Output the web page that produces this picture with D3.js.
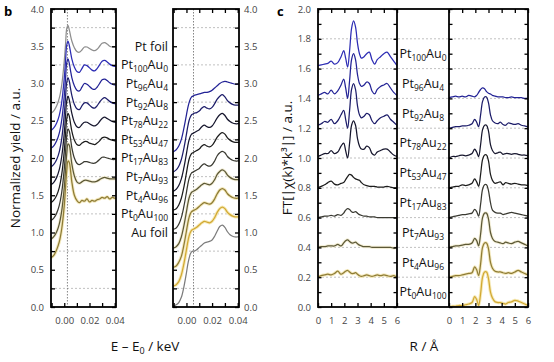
<!DOCTYPE html>
<html>
<head>
<meta charset="utf-8">
<script src="https://cdn.jsdelivr.net/npm/d3@7"></script>
<style>
  body { margin: 0; background: #fff; }
  text { font-family: "Open Sans", sans-serif; }
</style>
</head>
<body>
<svg width="554" height="362"></svg>
<script>
// ---- samples (top to bottom) ----
const sampleNames = ["Pt foil", "Pt100Au0", "Pt96Au4", "Pt92Au8", "Pt78Au22", "Pt53Au47",
                     "Pt17Au83", "Pt7Au93", "Pt4Au96", "Pt0Au100", "Au foil"];
const sampleColors = ["#8e8e8e", "#2c2cb4", "#232396", "#1d1d6a", "#17172e", "#1c1c1c",
                      "#3a3a32", "#5c5836", "#8e7c36", "#d2a934", "#7c7c7c"];
const haloColors = [null, null, null, null, null, null, null, "#f4efd8", "#f4e9bd", "#f6eab8", null];
// vertical offsets used in panel b and baselines in panel c
const xanesOffset = [2.5, 2.25, 2.0, 1.75, 1.5, 1.25, 1.0, 0.75, 0.5, 0.25, 0.0];
const ftBaseline  = [null, 1.6, 1.4, 1.2, 1.0, 0.8, 0.6, 0.4, 0.2, 0.0, null];

// ---- panel b: XANES, E - E0 in keV ----
const energy = [-0.0105, -0.008, -0.006, -0.004, -0.002, 0.000, 0.001, 0.002, 0.003, 0.004,
                0.005, 0.006, 0.008, 0.010, 0.012, 0.014, 0.016, 0.018, 0.020, 0.022,
                0.024, 0.026, 0.028, 0.030, 0.032, 0.034, 0.036, 0.038, 0.040, 0.041];

// Pt L3 edge, samples 0..8
const ptEdge = [
  [0.10,0.14,0.20,0.30,0.48,0.80,1.02,1.24,1.28,1.22,1.14,1.07,0.98,0.93,0.92,0.95,0.99,0.99,0.97,0.95,0.94,0.96,1.00,1.04,1.05,1.03,1.00,0.99,0.99,0.99],
  [0.12,0.16,0.22,0.32,0.50,0.82,1.05,1.27,1.32,1.26,1.17,1.08,0.97,0.91,0.90,0.95,1.00,0.99,0.96,0.93,0.92,0.95,1.00,1.05,1.06,1.04,1.01,0.99,0.98,0.98],
  [0.13,0.17,0.23,0.33,0.51,0.83,1.06,1.28,1.33,1.27,1.17,1.08,0.97,0.91,0.90,0.95,1.00,0.99,0.96,0.93,0.92,0.95,1.00,1.05,1.06,1.04,1.01,0.99,0.98,0.98],
  [0.13,0.17,0.23,0.33,0.51,0.83,1.06,1.27,1.33,1.28,1.18,1.09,0.97,0.91,0.90,0.95,0.99,0.99,0.96,0.93,0.92,0.95,1.00,1.04,1.06,1.04,1.01,0.99,0.98,0.98],
  [0.14,0.18,0.24,0.34,0.52,0.83,1.06,1.27,1.33,1.28,1.19,1.10,0.98,0.92,0.91,0.95,0.98,0.98,0.96,0.94,0.93,0.95,0.99,1.03,1.05,1.03,1.01,0.99,0.98,0.98],
  [0.15,0.19,0.25,0.35,0.53,0.84,1.07,1.28,1.35,1.31,1.21,1.11,0.99,0.93,0.92,0.95,0.97,0.97,0.95,0.94,0.93,0.95,0.98,1.02,1.03,1.02,1.00,0.99,0.98,0.98],
  [0.16,0.20,0.26,0.36,0.54,0.85,1.08,1.30,1.39,1.36,1.26,1.14,1.00,0.93,0.91,0.93,0.95,0.95,0.94,0.93,0.93,0.95,0.98,1.01,1.01,1.00,0.99,0.98,0.98,0.98],
  [0.16,0.20,0.26,0.36,0.54,0.85,1.08,1.31,1.44,1.42,1.31,1.17,1.01,0.93,0.91,0.93,0.95,0.95,0.94,0.93,0.93,0.94,0.96,0.98,0.99,0.98,0.97,0.97,0.97,0.97],
  [0.16,0.20,0.27,0.37,0.55,0.86,1.10,1.33,1.46,1.44,1.33,1.18,1.00,0.93,0.90,0.93,0.92,0.95,0.91,0.93,0.92,0.94,0.95,0.97,0.96,0.98,0.95,0.97,0.96,0.96]
];
const ptEdgeSamples = [0, 1, 2, 3, 4, 5, 6, 7, 8];

// Au L3 edge, samples 2..10
const auEdge = [
  [0.08,0.11,0.16,0.25,0.40,0.58,0.67,0.74,0.79,0.82,0.83,0.84,0.85,0.86,0.87,0.88,0.88,0.89,0.91,0.94,0.97,1.00,1.02,1.03,1.02,1.01,1.00,0.99,0.99,0.99],
  [0.06,0.09,0.14,0.23,0.38,0.57,0.67,0.75,0.80,0.83,0.84,0.85,0.86,0.88,0.92,0.94,0.92,0.91,0.93,0.98,1.04,1.08,1.10,1.07,1.02,0.99,0.97,0.96,0.96,0.96],
  [0.05,0.08,0.13,0.22,0.37,0.56,0.66,0.74,0.79,0.82,0.83,0.84,0.86,0.88,0.92,0.94,0.92,0.91,0.93,0.98,1.04,1.08,1.10,1.07,1.02,0.99,0.97,0.96,0.96,0.96],
  [0.05,0.07,0.12,0.21,0.36,0.55,0.65,0.73,0.78,0.81,0.82,0.83,0.85,0.87,0.91,0.93,0.91,0.90,0.92,0.97,1.03,1.07,1.09,1.07,1.02,0.99,0.97,0.96,0.96,0.96],
  [0.04,0.06,0.11,0.20,0.35,0.54,0.64,0.72,0.77,0.80,0.81,0.82,0.84,0.86,0.90,0.92,0.90,0.89,0.91,0.96,1.03,1.07,1.09,1.07,1.02,0.99,0.97,0.96,0.96,0.96],
  [0.04,0.06,0.10,0.19,0.34,0.53,0.63,0.71,0.76,0.79,0.80,0.81,0.83,0.86,0.89,0.91,0.90,0.89,0.91,0.96,1.03,1.07,1.09,1.07,1.02,0.99,0.97,0.96,0.96,0.96],
  [0.03,0.05,0.10,0.18,0.33,0.52,0.62,0.70,0.75,0.78,0.79,0.80,0.82,0.85,0.88,0.90,0.89,0.88,0.90,0.95,1.02,1.07,1.09,1.07,1.02,0.99,0.97,0.96,0.96,0.96],
  [0.03,0.05,0.09,0.18,0.33,0.52,0.62,0.70,0.75,0.78,0.79,0.80,0.82,0.85,0.88,0.90,0.89,0.88,0.90,0.95,1.02,1.07,1.09,1.07,1.02,0.99,0.97,0.96,0.96,0.96],
  [0.01,0.03,0.06,0.13,0.27,0.46,0.57,0.65,0.71,0.74,0.75,0.75,0.77,0.80,0.83,0.86,0.87,0.88,0.90,0.95,1.02,1.08,1.10,1.07,1.01,0.97,0.95,0.94,0.94,0.94]
];
const auEdgeSamples = [2, 3, 4, 5, 6, 7, 8, 9, 10];

// ---- panel c: FT magnitude vs R (Å), above each baseline ----
const radius = [0, 0.25, 0.5, 0.75, 1.0, 1.25, 1.5, 1.75, 1.95, 2.1, 2.25, 2.4, 2.55, 2.7, 2.85,
                3.0, 3.15, 3.3, 3.5, 3.7, 3.9, 4.1, 4.3, 4.5, 4.75, 5.0, 5.25, 5.5, 5.75, 6.0];

// Pt L3, samples 1..8
const ptFT = [
  [0.02,0.025,0.03,0.035,0.05,0.03,0.04,0.08,0.12,0.07,0.01,0.12,0.27,0.32,0.28,0.17,0.10,0.07,0.08,0.10,0.11,0.06,0.03,0.06,0.08,0.10,0.11,0.08,0.05,0.02],
  [0.02,0.03,0.04,0.03,0.055,0.03,0.05,0.09,0.13,0.07,0.0,0.12,0.26,0.30,0.26,0.16,0.10,0.08,0.09,0.11,0.10,0.05,0.03,0.06,0.08,0.09,0.10,0.07,0.04,0.02],
  [0.02,0.03,0.045,0.04,0.06,0.03,0.05,0.09,0.12,0.06,0.0,0.12,0.26,0.30,0.26,0.15,0.09,0.07,0.08,0.10,0.09,0.05,0.03,0.05,0.07,0.08,0.09,0.06,0.04,0.02],
  [0.01,0.02,0.03,0.03,0.05,0.03,0.04,0.08,0.10,0.05,0.0,0.10,0.22,0.25,0.22,0.13,0.08,0.06,0.06,0.08,0.07,0.03,0.02,0.04,0.05,0.06,0.06,0.04,0.02,0.01],
  [0.0,0.01,0.02,0.035,0.045,0.025,0.02,0.03,0.035,0.055,0.075,0.09,0.085,0.07,0.06,0.055,0.05,0.035,0.02,0.015,0.01,0.01,0.01,0.005,0.005,0.005,0.01,0.005,0.0,0.0],
  [0.0,0.005,0.01,0.01,0.015,0.01,0.02,0.015,0.03,0.05,0.06,0.055,0.04,0.035,0.04,0.03,0.02,0.015,0.01,0.01,0.005,0.005,0.005,0.0,0.0,0.0,0.0,0.0,0.0,0.0],
  [0.0,0.005,0.005,0.01,0.01,0.01,0.02,0.01,0.03,0.045,0.05,0.04,0.03,0.03,0.035,0.025,0.015,0.01,0.005,0.005,0.005,0.0,0.0,0.0,0.0,0.0,0.0,0.0,-0.005,0.0],
  [0.0,0.01,0.015,0.02,0.015,0.025,0.04,0.02,0.03,0.04,0.045,0.035,0.025,0.025,0.03,0.02,0.01,0.005,0.01,0.015,0.01,0.005,0.01,0.015,0.01,0.015,0.01,0.005,0.01,0.0]
];
const ptFTSamples = [1, 2, 3, 4, 5, 6, 7, 8];

// Au L3, samples 2..9
const auFT = [
  [0.005,0.01,0.015,0.01,0.015,0.01,0.02,0.015,0.01,0.02,0.04,0.06,0.07,0.065,0.045,0.035,0.03,0.02,0.015,0.01,0.01,0.01,0.005,0.005,0.01,0.005,0.005,0.005,0.0,0.0],
  [0.0,0.005,0.01,0.01,0.015,0.015,0.02,0.03,0.06,0.04,0.01,0.09,0.18,0.21,0.21,0.17,0.09,0.05,0.035,0.03,0.04,0.025,0.02,0.035,0.03,0.025,0.03,0.02,0.015,0.01],
  [0.0,0.01,0.01,0.015,0.02,0.015,0.02,0.03,0.06,0.04,0.01,0.09,0.19,0.22,0.22,0.18,0.09,0.05,0.03,0.035,0.04,0.025,0.03,0.03,0.025,0.03,0.025,0.02,0.02,0.015],
  [0.0,0.005,0.01,0.01,0.02,0.015,0.02,0.03,0.06,0.04,0.01,0.09,0.19,0.22,0.22,0.18,0.09,0.05,0.03,0.035,0.04,0.02,0.035,0.03,0.025,0.03,0.025,0.02,0.02,0.015],
  [0.0,0.005,0.01,0.015,0.02,0.02,0.025,0.03,0.055,0.04,0.01,0.09,0.19,0.22,0.22,0.18,0.10,0.05,0.035,0.03,0.03,0.02,0.025,0.03,0.035,0.03,0.025,0.02,0.015,0.01],
  [0.0,0.005,0.01,0.01,0.015,0.02,0.02,0.03,0.06,0.045,0.01,0.09,0.20,0.23,0.23,0.19,0.10,0.06,0.04,0.035,0.03,0.025,0.035,0.03,0.025,0.035,0.04,0.03,0.02,0.01],
  [0.0,0.005,0.01,0.01,0.015,0.02,0.025,0.03,0.07,0.05,0.01,0.09,0.20,0.23,0.23,0.19,0.10,0.06,0.04,0.035,0.035,0.03,0.025,0.03,0.025,0.035,0.045,0.035,0.025,0.015],
  [0.0,0.005,0.005,0.01,0.01,0.015,0.02,0.03,0.07,0.05,0.01,0.09,0.20,0.235,0.235,0.19,0.10,0.06,0.035,0.03,0.03,0.025,0.02,0.03,0.035,0.045,0.04,0.03,0.02,0.01]
];
const auFTSamples = [2, 3, 4, 5, 6, 7, 8, 9];

// labels
const bLabelLevels = [3.5, 3.25, 3.0, 2.75, 2.5, 2.25, 2.0, 1.75, 1.5, 1.25, 1.0];
const cLabelLevels = [1.7, 1.5, 1.3, 1.1, 0.9, 0.7, 0.5, 0.3, 0.1];
const eTickLabels = [0.00, 0.02, 0.04];
const rTickLabels = [0, 1, 2, 3, 4, 5, 6];

// ---------------------------------------------------------------
const svg = d3.select("svg");
const plotTop = 9, plotBottom = 307;

const yB = d3.scaleLinear().domain([0, 4]).range([plotBottom, plotTop]);
const yC = d3.scaleLinear().domain([0, 2]).range([plotBottom, plotTop]);
const xBL = d3.scaleLinear().domain([-0.0105, 0.041]).range([51, 116]);
const xBR = d3.scaleLinear().domain([-0.0105, 0.041]).range([173, 239]);
const xCL = d3.scaleLinear().domain([0, 6]).range([318, 397]);
const xCR = d3.scaleLinear().domain([0, 6]).range([449, 528]);

const defs = svg.append("defs");
let clipId = 0;
function clipFor(x) {
  const id = "clip" + (clipId++);
  defs.append("clipPath").attr("id", id).append("rect")
      .attr("x", x.range()[0]).attr("y", plotTop)
      .attr("width", x.range()[1] - x.range()[0]).attr("height", plotBottom - plotTop);
  return `url(#${id})`;
}

function styleAxis(g) {
  g.select(".domain").remove();
  g.selectAll(".tick line").attr("stroke", "#000").attr("stroke-width", 1.3);
  g.selectAll(".tick text").attr("fill", "#444").style("font-size", "9.5px");
}

// subscript-aware text
function richText(g, name, x, y, anchor, size) {
  const t = g.append("text").attr("x", x).attr("y", y).attr("text-anchor", anchor)
      .attr("dy", "0.35em").style("font-size", size + "px").attr("fill", "#111");
  const parts = name.split(/(\d+)/).filter(p => p.length);
  let sub = false;
  parts.forEach(p => {
    const isNum = /^\d+$/.test(p);
    const ts = t.append("tspan").text(p);
    if (isNum && !sub) { ts.attr("dy", 3).style("font-size", (size * 0.68) + "px"); sub = true; }
    else if (!isNum && sub) { ts.attr("dy", -3); sub = false; }
  });
  return t;
}

// grid lines
function hGrid(x0, x1, y, levels) {
  svg.append("g").selectAll("line").data(levels).join("line")
    .attr("x1", x0).attr("x2", x1).attr("y1", d => y(d)).attr("y2", d => y(d))
    .attr("stroke", "#b0b0b0").attr("stroke-width", 0.8).attr("stroke-dasharray", "2,2");
}
hGrid(51, 116, yB, d3.range(0.25, 4, 0.5));
hGrid(173, 239, yB, d3.range(0.25, 4, 0.5));
hGrid(318, 528, yC, d3.range(0.2, 1.9, 0.2));

// vertical dotted reference lines in b
[[xBL, 0.0025], [xBR, 0.0055]].forEach(([x, v]) => {
  svg.append("line").attr("x1", x(v)).attr("x2", x(v)).attr("y1", plotTop).attr("y2", plotBottom)
    .attr("stroke", "#777").attr("stroke-width", 0.9).attr("stroke-dasharray", "1.5,1.5");
});

// curves
function drawSeries(x, y, xs, table, samples, base) {
  const g = svg.append("g").attr("clip-path", clipFor(x));
  const line = d3.line().x(d => x(d[0])).y(d => y(d[1])).curve(d3.curveCatmullRom.alpha(0.5));
  table.forEach((vals, i) => {
    const s = samples[i];
    const pts = xs.map((xv, j) => [xv, vals[j] + base[s]]);
    if (haloColors[s]) {
      g.append("path").attr("d", line(pts)).attr("fill", "none")
        .attr("stroke", haloColors[s]).attr("stroke-width", 3.2);
    }
  });
  table.forEach((vals, i) => {
    const s = samples[i];
    const pts = xs.map((xv, j) => [xv, vals[j] + base[s]]);
    g.append("path").attr("d", line(pts)).attr("fill", "none")
      .attr("stroke", sampleColors[s]).attr("stroke-width", 1.25).attr("stroke-linejoin", "round");
  });
}
drawSeries(xBL, yB, energy, ptEdge, ptEdgeSamples, xanesOffset);
drawSeries(xBR, yB, energy, auEdge, auEdgeSamples, xanesOffset);
drawSeries(xCL, yC, radius, ptFT, ptFTSamples, ftBaseline);
drawSeries(xCR, yC, radius, auFT, auFTSamples, ftBaseline);

// axes — panel b
const eTicks = d3.range(-0.01, 0.0401, 0.01);
const eFmt = d => eTickLabels.some(v => Math.abs(v - d) < 1e-6) ? d3.format(".2f")(d) : "";
const bYTicks = d3.range(0, 4.01, 0.25);
const bYFmt = d => Math.abs(d * 2 - Math.round(d * 2)) < 1e-6 ? d3.format(".1f")(d) : "";

[xBL, xBR].forEach((x, k) => {
  svg.append("g").attr("transform", `translate(0,${plotBottom})`)
    .call(d3.axisBottom(x).tickValues(eTicks).tickSize(-4).tickPadding(10).tickFormat(eFmt)).call(styleAxis);
  svg.append("g").attr("transform", `translate(0,${plotTop})`)
    .call(d3.axisTop(x).tickValues(eTicks).tickSize(-4).tickFormat("")).call(styleAxis);
  const x0 = x.range()[0], x1 = x.range()[1];
  svg.append("g").attr("transform", `translate(${x0},0)`)
    .call(d3.axisLeft(yB).tickValues(bYTicks).tickSize(-4).tickPadding(7)
      .tickFormat(k === 0 ? bYFmt : "")).call(styleAxis);
  svg.append("g").attr("transform", `translate(${x1},0)`)
    .call(d3.axisRight(yB).tickValues(bYTicks).tickSize(-4).tickPadding(5)
      .tickFormat(k === 1 ? bYFmt : "")).call(styleAxis);
  svg.append("rect").attr("x", x0).attr("y", plotTop).attr("width", x1 - x0).attr("height", plotBottom - plotTop)
    .attr("fill", "none").attr("stroke", "#000").attr("stroke-width", 1.8);
});

// axes — panel c
const cYTicks = d3.range(0, 2.01, 0.1);
const cYFmt = d => Math.abs(d * 5 - Math.round(d * 5)) < 1e-6 ? d3.format(".1f")(d) : "";
[xCL, xCR].forEach((x, k) => {
  svg.append("g").attr("transform", `translate(0,${plotBottom})`)
    .call(d3.axisBottom(x).tickValues(rTickLabels).tickSize(-4).tickPadding(10).tickFormat(d3.format("d")))
    .call(styleAxis);
  svg.append("g").attr("transform", `translate(0,${plotTop})`)
    .call(d3.axisTop(x).tickValues(rTickLabels).tickSize(-4).tickFormat("")).call(styleAxis);
  const x0 = x.range()[0], x1 = x.range()[1];
  svg.append("g").attr("transform", `translate(${x0},0)`)
    .call(d3.axisLeft(yC).tickValues(cYTicks).tickSize(-3.5).tickPadding(7)
      .tickFormat(k === 0 ? cYFmt : "")).call(styleAxis);
  svg.append("g").attr("transform", `translate(${x1},0)`)
    .call(d3.axisRight(yC).tickValues(cYTicks).tickSize(-3.5).tickFormat("")).call(styleAxis);
});
svg.append("rect").attr("x", 318).attr("y", plotTop).attr("width", 528 - 318).attr("height", plotBottom - plotTop)
  .attr("fill", "none").attr("stroke", "#000").attr("stroke-width", 1.8);
[397, 449].forEach(xv => svg.append("line").attr("x1", xv).attr("x2", xv)
  .attr("y1", plotTop).attr("y2", plotBottom).attr("stroke", "#000").attr("stroke-width", 1.8));

// curve labels
const lab = svg.append("g");
sampleNames.forEach((n, i) => richText(lab, n, 168, yB(bLabelLevels[i]), "end", 12.5));
sampleNames.slice(1, 10).forEach((n, i) => richText(lab, n, 423, yC(cLabelLevels[i]), "middle", 12.5));

// axis titles
svg.append("text").attr("transform", `translate(20,${(plotTop + plotBottom) / 2}) rotate(-90)`)
  .attr("text-anchor", "middle").style("font-size", "13.5px").attr("fill", "#111")
  .text("Normalized yield / a.u.");
svg.append("text").attr("transform", `translate(292,${(plotTop + plotBottom) / 2}) rotate(-90)`)
  .attr("text-anchor", "middle").style("font-size", "13.5px").attr("fill", "#111")
  .text("FT[|χ(k)*k³|] / a.u.");

const ex = svg.append("text").attr("x", 145).attr("y", 351).attr("text-anchor", "middle")
  .style("font-size", "13.5px").attr("fill", "#111");
ex.append("tspan").text("E – E");
ex.append("tspan").text("0").attr("dy", 3).style("font-size", "9px");
ex.append("tspan").text(" / keV").attr("dy", -3);

svg.append("text").attr("x", 424).attr("y", 351).attr("text-anchor", "middle")
  .style("font-size", "13.5px").attr("fill", "#111").text("R / Å");

// panel letters
svg.append("text").attr("x", 4).attr("y", 16).style("font-size", "13px").style("font-weight", "bold").text("b");
svg.append("text").attr("x", 277).attr("y", 16).style("font-size", "13px").style("font-weight", "bold").text("c");
</script>
</body>
</html>
